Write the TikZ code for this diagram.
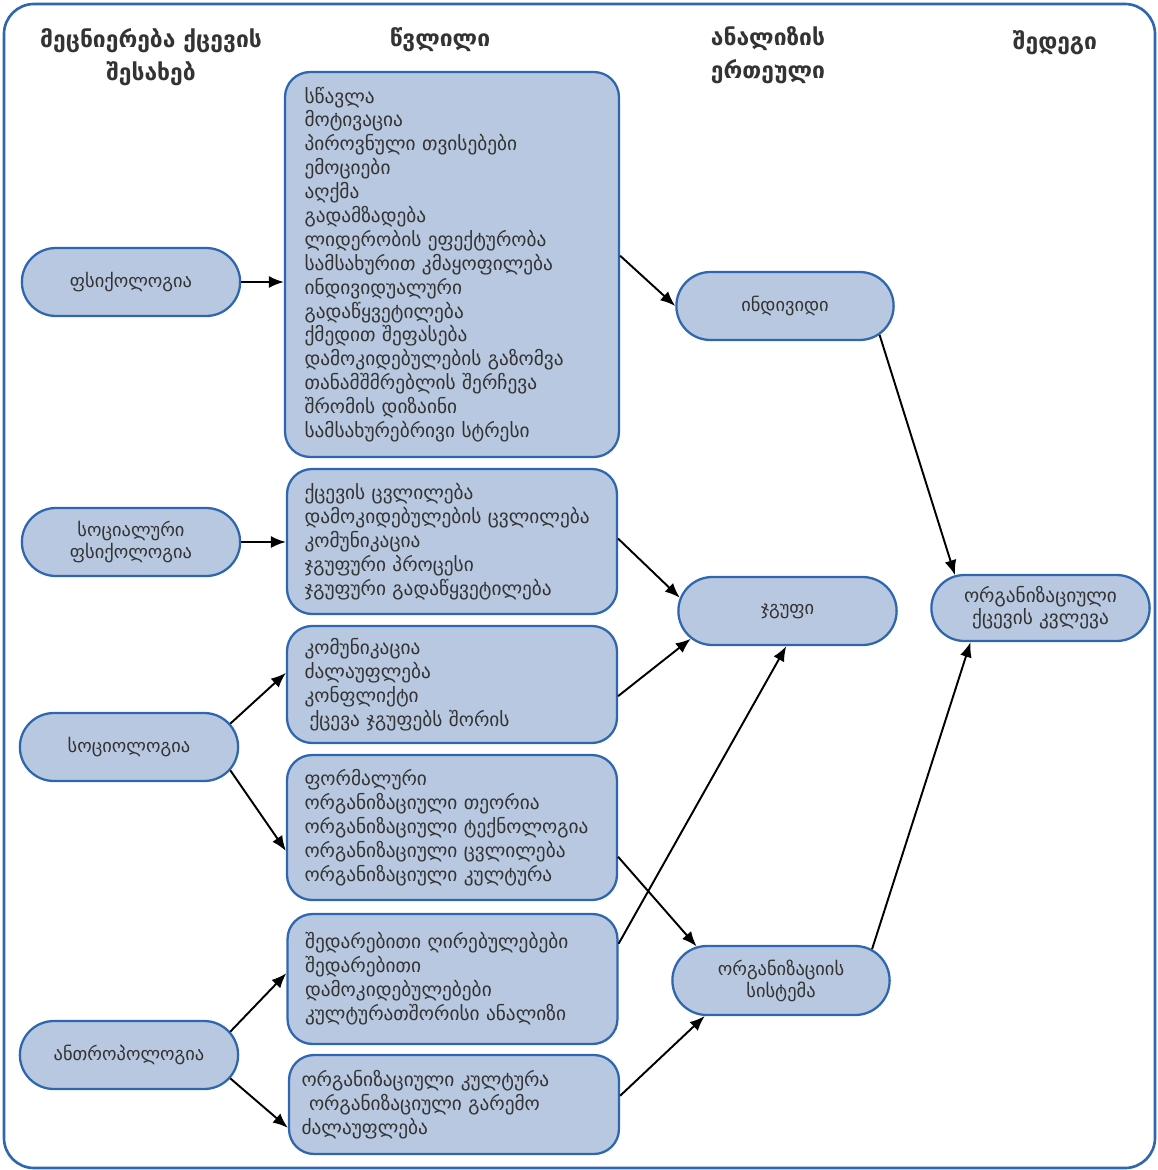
\documentclass[tikz,border=0pt]{standalone}
\usepackage{fontspec}
\setmainfont{DejaVu Sans}
\usetikzlibrary{arrows.meta,shapes.misc}
\definecolor{boxblue}{HTML}{B8C8E0}
\definecolor{rimblue}{HTML}{2E67AE}
\definecolor{inkgray}{HTML}{333333}
\newcommand\widespace{\spaceskip=0.5em plus 0.1em\relax}

\begin{document}
\begin{tikzpicture}[x=0.02cm,y=-0.02cm,line width=1.1pt,>={Latex[length=3mm,width=2.4mm]},
  field/.style={rounded rectangle,draw=rimblue,fill=boxblue,line width=1.3pt,
    minimum width=4.6cm,minimum height=1.36cm,align=center,text=inkgray,
    font=\fontsize{10.5}{12.5}\selectfont},
  topic/.style={draw=rimblue,fill=boxblue,line width=1.3pt,rounded corners=0.5cm,
    minimum width=6.6cm,text width=5.9cm,inner xsep=0.35cm,align=left,text=inkgray,
    font=\fontsize{11}{13.6}\selectfont\widespace},
  head/.style={font=\bfseries\fontsize{13}{19}\selectfont,text=inkgray,align=center}]
  \useasboundingbox (0,0) rectangle (1157,1170);
  \draw[rimblue,line width=1.5pt,rounded corners=0.6cm] (4,4) rectangle (1155,1168);

  % column heads
  \node[head] (hscience) at (151,57) {მეცნიერება ქცევის\\შესახებ};
  \node[head] (hshare) at (440,40) {წვლილი};
  \node[head,align=left] (hunit) at (768,55) {ანალიზის\\ერთეული};
  \node[head] (hresult) at (1055,43) {შედეგი};

  % sciences
  \node[field] (psy) at (131,282) {ფსიქოლოგია};
  \node[field] (socpsy) at (131,542) {სოციალური\\ფსიქოლოგია};
  \node[field] (soc) at (129,747) {სოციოლოგია};
  \node[field] (anth) at (129,1055) {ანთროპოლოგია};

  % contributions
  \node[topic,minimum width=6.68cm,minimum height=7.7cm] (b1) at (452,264.5) {სწავლა\\
    მოტივაცია\\პიროვნული თვისებები\\ემოციები\\აღქმა\\გადამზადება\\
    ლიდერობის ეფექტურობა\\სამსახურით კმაყოფილება\\ინდივიდუალური\\
    გადაწყვეტილება\\ქმედით შეფასება\\დამოკიდებულების გაზომვა\\
    თანამშმრებლის შერჩევა\\შრომის დიზაინი\\სამსახურებრივი სტრესი};
  \node[topic,minimum height=2.9cm] (b2) at (452,541.5) {ქცევის ცვლილება\\
    დამოკიდებულების ცვლილება\\კომუნიკაცია\\ჯგუფური პროცესი\\
    ჯგუფური გადაწყვეტილება};
  \node[topic,minimum height=2.34cm] (b3) at (452,684.5) {კომუნიკაცია\\
    ძალაუფლება\\კონფლიქტი\\\hspace{0.1cm}ქცევა ჯგუფებს შორის};
  \node[topic,minimum height=2.9cm] (b4) at (452,827.5) {ფორმალური\\
    ორგანიზაციული თეორია\\ორგანიზაციული ტექნოლოგია\\
    ორგანიზაციული ცვლილება\\ორგანიზაციული კულტურა};
  \node[topic,minimum width=6.58cm,minimum height=2.6cm] (b5) at (452.5,979) {შედარებითი ღირებულებები\\
    შედარებითი\\დამოკიდებულებები\\კულტურათშორისი ანალიზი};
  \node[topic,minimum height=1.98cm,inner xsep=0.25cm,text width=6.1cm] (b6) at (454,1104.5) {ორგანიზაციული კულტურა\\
    \hspace{0.15cm}ორგანიზაციული გარემო\\ძალაუფლება};

  % units of analysis
  \node[field,minimum width=4.58cm] (ind) at (785,306) {ინდივიდი};
  \node[field] (grp) at (787.5,611) {ჯგუფი};
  \node[field,minimum width=4.58cm,minimum height=1.38cm] (sys) at (781,980.5) {ორგანიზაციის\\სისტემა};

  % result
  \node[field,minimum height=1.32cm,font=\fontsize{11}{12.5}\selectfont] (res) at (1040.5,608) {ორგანიზაციული\\ქცევის კვლევა};

  % arrows
  \draw[->] (psy.east) -- (psy.east -| b1.west);
  \draw[->] (socpsy.east) -- (socpsy.east -| b2.west);
  \draw[->] (soc.13) -- (b3.176);
  \draw[->] (soc.-13) -- (b4.188);
  \draw[->] (anth.13) -- (b5.178);
  \draw[->] (anth.-13) -- (b6.188);
  \draw[->] (b1.3) -- (ind.west);
  \draw[->] (b2.1) -- (grp.173);
  \draw[->] (b3.-4) -- (grp.196);
  \draw[->] (b5.12) -- (grp.-92);
  \draw[->] (b4.-10) -- (sys.158);
  \draw[->] (b6.3) -- (sys.205);
  \draw[->] (ind.-17) -- (res.159);
  \draw[->] (sys.19) -- (res.206);
\end{tikzpicture}
\end{document}
